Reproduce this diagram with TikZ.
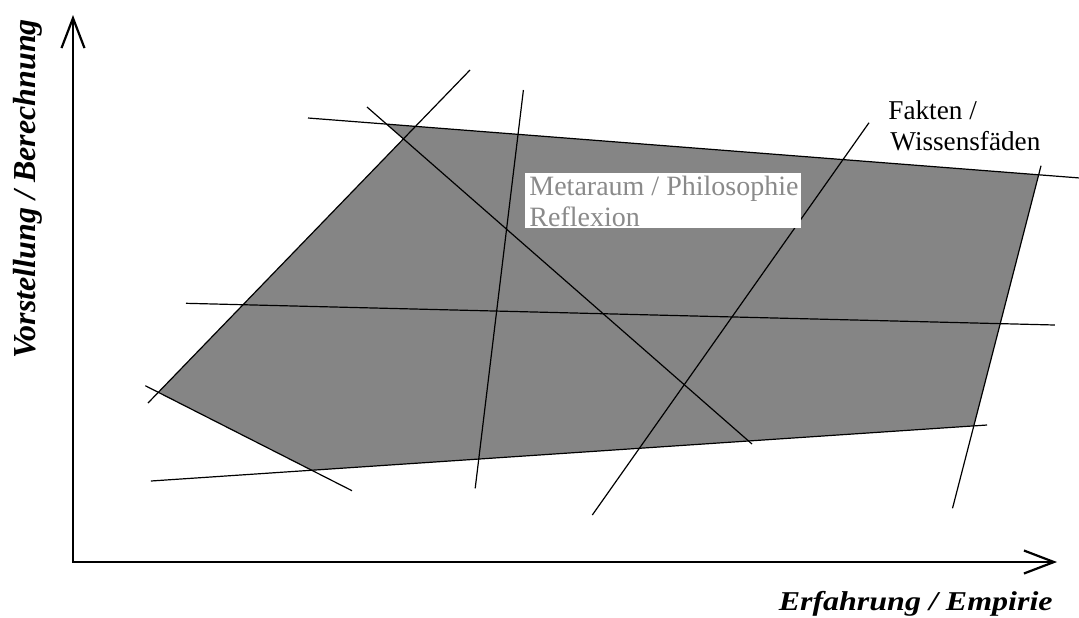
\documentclass[tikz,border=0pt]{standalone}
\usepackage{fontspec}
\usepackage{graphicx}
\setmainfont{Liberation Serif}
\usetikzlibrary{arrows.meta}
\definecolor{fillgray}{RGB}{133,133,133}
\definecolor{textgray}{RGB}{138,138,138}
\begin{document}
\begin{tikzpicture}[x=0.5pt,y=-0.5pt,
  thread/.style={line width=0.6pt, black},
  axisline/.style={line width=1.1pt, black,
    {Straight Barb[length=15pt,width=11.5pt]}-{Straight Barb[length=15pt,width=11.5pt]}},
  lab/.style={inner sep=0pt, font=\fontsize{13.6}{15.5}\selectfont},
  metlab/.style={inner sep=0pt, text=textgray, font=\fontsize{14}{15.5}\selectfont},
  axlab/.style={inner sep=0pt, font=\fontsize{16}{18}\selectfont\bfseries\itshape}]
\useasboundingbox (0,0) rectangle (1079,617);
% line end points
\coordinate (topA) at (308,118);
\coordinate (topB) at (1080,178);
\coordinate (diagA) at (367,107);
\coordinate (diagB) at (752,444);
\coordinate (leftA) at (470,70);
\coordinate (leftB) at (148,403);
\coordinate (vA) at (523.4,90);
\coordinate (vB) at (475.2,488.3);
\coordinate (midA) at (186,303.3);
\coordinate (midB) at (1054.8,325);
\coordinate (fakA) at (869,122.7);
\coordinate (fakB) at (592.3,515);
\coordinate (rA) at (1041,165.7);
\coordinate (rB) at (952.5,508.3);
\coordinate (botA) at (150.8,481);
\coordinate (botB) at (987,425);
\coordinate (llA) at (145.3,385.7);
\coordinate (llB) at (352,490.7);
% polygon
\coordinate (p1) at (intersection of topA--topB and diagA--diagB);
\coordinate (p2) at (intersection of diagA--diagB and leftA--leftB);
\coordinate (p3) at (intersection of leftA--leftB and llA--llB);
\coordinate (p4) at (intersection of llA--llB and botA--botB);
\coordinate (p5) at (intersection of botA--botB and rA--rB);
\coordinate (p6) at (intersection of rA--rB and topA--topB);
\fill[fillgray] (p1) -- (p2) -- (p3) -- (p4) -- (p5) -- (p6) -- cycle;
% threads
\draw[thread] (topA) -- (topB);
\draw[thread] (diagA) -- (diagB);
\draw[thread] (leftA) -- (leftB);
\draw[thread] (vA) -- (vB);
\draw[thread] (midA) -- (midB);
\draw[thread] (fakA) -- (fakB);
\draw[thread] (rA) -- (rB);
\draw[thread] (botA) -- (botB);
\draw[thread] (llA) -- (llB);
% axes
\coordinate (ytip) at (73,15);
\coordinate (origin) at (73,562);
\coordinate (xtip) at (1057,562);
\draw[axisline] (ytip) -- (origin) -- (xtip);
% labels
\node[axlab, rotate=90, anchor=base] (ylab) at (35,189) {Vorstellung / Berechnung};
\node[axlab, anchor=base east] (xlab) at (1053,610) {\scalebox{1}[0.85]{Erfahrung / Empirie}};
\node[lab, anchor=base west] (fak1) at (888,119.5) {Fakten /};
\node[lab, anchor=base west] (fak2) at (890,150.7) {Wissensfäden};
\fill[white] (525,173.3) rectangle (800.5,228.3);
\node[metlab, anchor=base west] (met1) at (529,195.7) {Metaraum / Philosophie};
\node[metlab, anchor=base west] (met2) at (529,226.7) {Reflexion};
\end{tikzpicture}
\end{document}
